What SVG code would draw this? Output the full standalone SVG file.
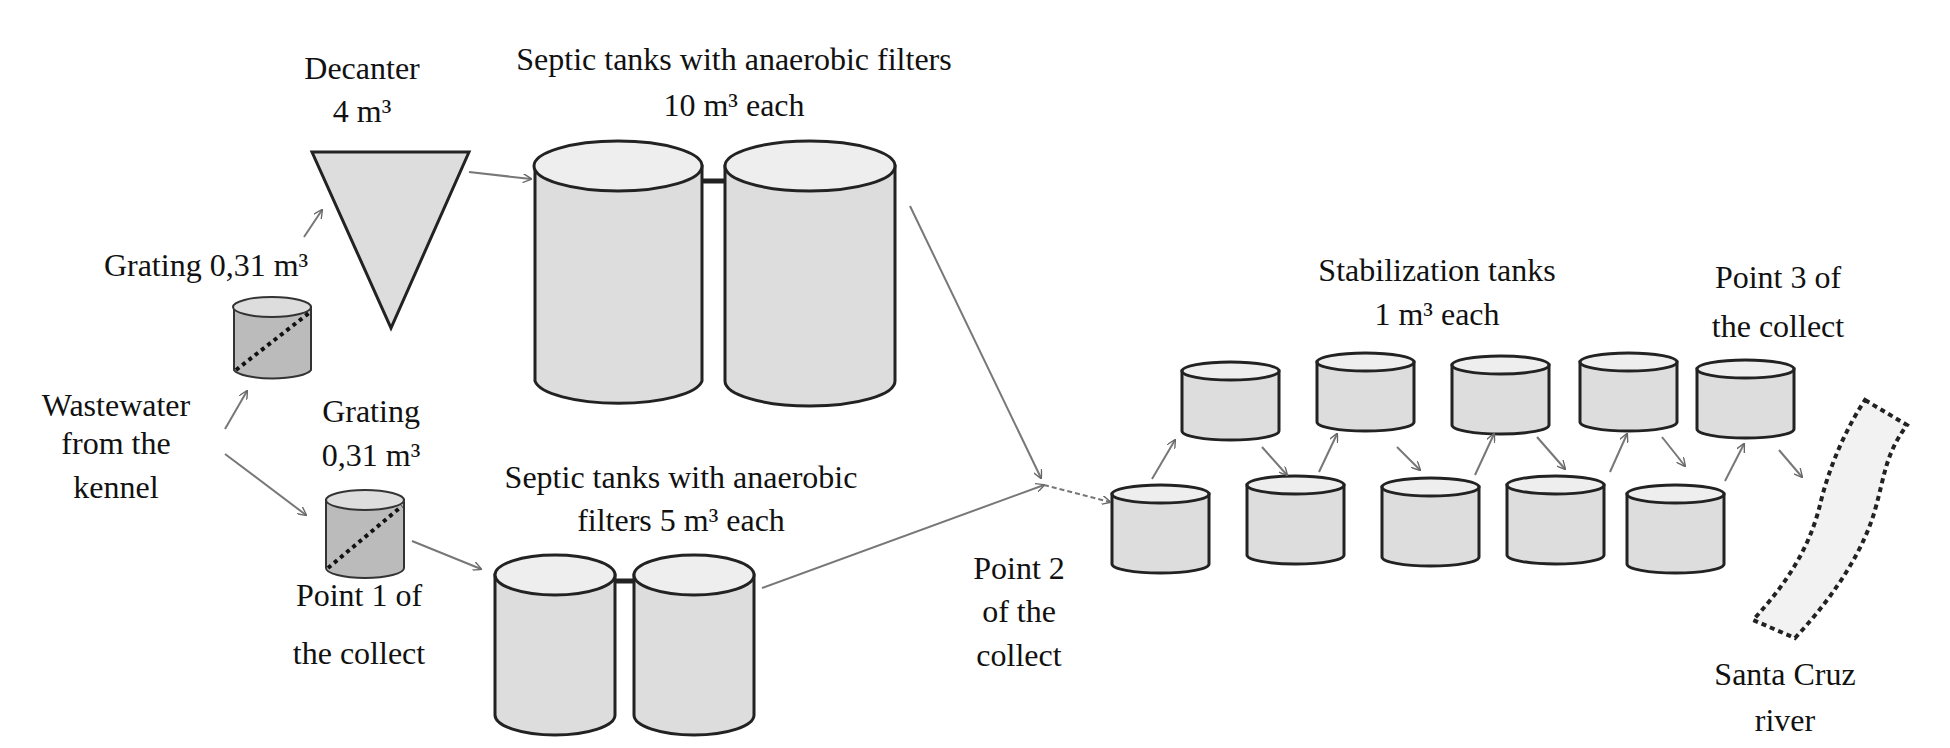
<svg xmlns="http://www.w3.org/2000/svg" width="1950" height="748" viewBox="0 0 1950 748">
<defs>
<marker id="a" viewBox="0 0 10 10" refX="9" refY="5" markerWidth="9" markerHeight="9" orient="auto" markerUnits="userSpaceOnUse"><path d="M0,0 L10,5 L0,10" fill="none" stroke="#666" stroke-width="1.5"/></marker>
<style>
text{font-family:"Liberation Serif","Times New Roman",serif;font-size:32px;fill:#111;text-anchor:middle}
.b{fill:#ddd;stroke:#222;stroke-width:3}
.t{fill:#eee;stroke:#222;stroke-width:3}
.g{fill:#bbb;stroke:#333;stroke-width:2}
.c line,.c path{stroke:#777;stroke-width:2;fill:none;marker-end:url(#a)}
</style>
</defs>
<rect width="1950" height="748" fill="#fff"/>
<g id="decanter"><polygon points="312,152 469,152 391,328" class="b"/><text x="362" y="79">Decanter</text><text x="362" y="122">4 m³</text></g>
<g id="septic10">
<path d="M535,166 V381 A84,25 0 0 0 702,381 V166 Z" class="b"/><ellipse cx="618" cy="166" rx="84" ry="25" class="t"/>
<path d="M725,166 V381 A85,25 0 0 0 895,381 V166 Z" class="b"/><ellipse cx="810" cy="166" rx="85" ry="25" class="t"/>
<line x1="702" y1="181" x2="725" y2="181" stroke="#222" stroke-width="5"/>
<text x="734" y="70">Septic tanks with anaerobic filters</text><text x="734" y="116">10 m³ each</text></g>
<g id="grating1">
<path d="M234,307 V370 A39,10 0 0 0 311,370 V307 Z" class="g"/><ellipse cx="272" cy="307" rx="39" ry="10" fill="#ddd" stroke="#333" stroke-width="2"/>
<line x1="236" y1="370" x2="309" y2="313" stroke="#111" stroke-width="4" stroke-dasharray="4,4"/>
<text x="206" y="276">Grating 0,31 m³</text></g>
<g id="wastewater"><text x="116" y="416">Wastewater</text><text x="116" y="454">from the</text><text x="116" y="498">kennel</text></g>
<g id="grating2">
<path d="M326,500 V568 A39,10 0 0 0 404,568 V500 Z" class="g"/><ellipse cx="365" cy="500" rx="39" ry="10" fill="#ddd" stroke="#333" stroke-width="2"/>
<line x1="328" y1="568" x2="402" y2="506" stroke="#111" stroke-width="4" stroke-dasharray="4,4"/>
<text x="371" y="422">Grating</text><text x="371" y="466">0,31 m³</text>
<text x="359" y="606">Point 1 of</text><text x="359" y="664">the collect</text></g>
<g id="septic5">
<path d="M495,575 V715 A60,20 0 0 0 615,715 V575 Z" class="b"/><ellipse cx="555" cy="575" rx="60" ry="20" class="t"/>
<path d="M634,575 V715 A60,20 0 0 0 754,715 V575 Z" class="b"/><ellipse cx="694" cy="575" rx="60" ry="20" class="t"/>
<line x1="615" y1="581" x2="634" y2="581" stroke="#222" stroke-width="5"/>
<text x="681" y="488">Septic tanks with anaerobic</text><text x="681" y="531">filters 5 m³ each</text></g>
<g id="point2"><text x="1019" y="579">Point 2</text><text x="1019" y="622">of the</text><text x="1019" y="666">collect</text></g>
<g id="stab">
<g id="s1"><path d="M1112,494 V564 A48.5,9 0 0 0 1209,564 V494 Z" class="b"/><ellipse cx="1160.5" cy="494" rx="48.5" ry="9" class="t"/></g>
<g id="s2"><path d="M1247,485 V555 A48.5,9 0 0 0 1344,555 V485 Z" class="b"/><ellipse cx="1295.5" cy="485" rx="48.5" ry="9" class="t"/></g>
<g id="s3"><path d="M1382,487 V557 A48.5,9 0 0 0 1479,557 V487 Z" class="b"/><ellipse cx="1430.5" cy="487" rx="48.5" ry="9" class="t"/></g>
<g id="s4"><path d="M1507,485 V555 A48.5,9 0 0 0 1604,555 V485 Z" class="b"/><ellipse cx="1555.5" cy="485" rx="48.5" ry="9" class="t"/></g>
<g id="s5"><path d="M1627,494 V564 A48.5,9 0 0 0 1724,564 V494 Z" class="b"/><ellipse cx="1675.5" cy="494" rx="48.5" ry="9" class="t"/></g>
<g id="s6"><path d="M1182,371 V431 A48.5,9 0 0 0 1279,431 V371 Z" class="b"/><ellipse cx="1230.5" cy="371" rx="48.5" ry="9" class="t"/></g>
<g id="s7"><path d="M1317,362 V422 A48.5,9 0 0 0 1414,422 V362 Z" class="b"/><ellipse cx="1365.5" cy="362" rx="48.5" ry="9" class="t"/></g>
<g id="s8"><path d="M1452,365 V425 A48.5,9 0 0 0 1549,425 V365 Z" class="b"/><ellipse cx="1500.5" cy="365" rx="48.5" ry="9" class="t"/></g>
<g id="s9"><path d="M1580,362 V422 A48.5,9 0 0 0 1677,422 V362 Z" class="b"/><ellipse cx="1628.5" cy="362" rx="48.5" ry="9" class="t"/></g>
<g id="s10"><path d="M1697,369 V429 A48.5,9 0 0 0 1794,429 V369 Z" class="b"/><ellipse cx="1745.5" cy="369" rx="48.5" ry="9" class="t"/></g>
<text x="1437" y="281">Stabilization tanks</text><text x="1437" y="325">1 m³ each</text></g>
<g id="point3"><text x="1778" y="288">Point 3 of</text><text x="1778" y="337">the collect</text></g>
<g id="river"><path d="M1865,400 L1907,425 C1885,455 1885,475 1875,510 C1865,545 1840,590 1795,638 L1753,620 C1790,580 1810,545 1820,505 C1828,470 1845,430 1865,400 Z" fill="#f2f2f2" stroke="#222" stroke-width="4" stroke-dasharray="5,4"/>
<text x="1785" y="685">Santa Cruz</text><text x="1785" y="731">river</text></g>
<g id="connectors" class="c">
<line x1="469" y1="172" x2="531" y2="179"/>
<line x1="304" y1="237" x2="322" y2="210"/>
<line x1="225" y1="429" x2="247" y2="391"/>
<line x1="225" y1="454" x2="306" y2="515"/>
<line x1="412" y1="541" x2="481" y2="569"/>
<line x1="762" y1="588" x2="1044" y2="485"/>
<line x1="910" y1="206" x2="1041" y2="478"/>
<line x1="1044" y1="485" x2="1110" y2="502" stroke-dasharray="5,3"/>
<line x1="1152" y1="479" x2="1175" y2="440"/>
<line x1="1262" y1="447" x2="1287" y2="475"/>
<line x1="1319" y1="472" x2="1337" y2="434"/>
<line x1="1397" y1="447" x2="1420" y2="470"/>
<line x1="1475" y1="475" x2="1494" y2="434"/>
<line x1="1537" y1="437" x2="1565" y2="469"/>
<line x1="1610" y1="472" x2="1627" y2="434"/>
<line x1="1662" y1="437" x2="1685" y2="466"/>
<line x1="1725" y1="481" x2="1744" y2="444"/>
<line x1="1779" y1="450" x2="1802" y2="477"/>
</g>
</svg>
